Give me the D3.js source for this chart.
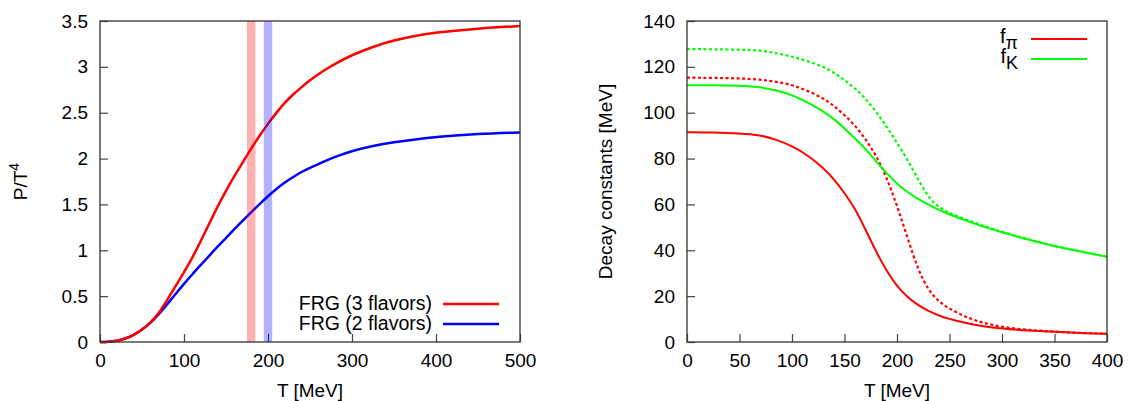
<!DOCTYPE html>
<html>
<head>
<meta charset="utf-8">
<script src="https://cdn.jsdelivr.net/npm/d3@7"></script>
<style>
  body { margin: 0; background: #fff; }
  svg { font-family: "Liberation Sans", Arial, sans-serif; }
  .tick text { font-size: 19px; fill: #000; }
  .tick line { stroke: #444; stroke-width: 1.2; }
</style>
</head>
<body>
<svg id="chart" width="1133" height="401"></svg>
<script>
// left panel: pressure
const tP = [0, 10, 20, 30, 40, 50, 60, 70, 80, 90, 100, 110, 120, 130, 140, 150, 160, 170, 180, 190,
  200, 210, 220, 230, 240, 250, 260, 270, 280, 300, 325, 350, 375, 400, 450, 500];
const p3flavors = [0, 0.002, 0.012, 0.035, 0.075, 0.135, 0.21, 0.31, 0.46, 0.61, 0.76, 0.92, 1.10, 1.29, 1.48,
  1.65, 1.81, 1.96, 2.11, 2.25, 2.38, 2.50, 2.61, 2.70, 2.78, 2.855, 2.92, 2.98, 3.035, 3.13, 3.22, 3.29, 3.34,
  3.375, 3.42, 3.445];
const p2flavors = [0, 0.002, 0.012, 0.035, 0.075, 0.135, 0.205, 0.30, 0.41, 0.525, 0.635, 0.74, 0.84, 0.94, 1.04,
  1.135, 1.23, 1.325, 1.415, 1.505, 1.59, 1.67, 1.74, 1.80, 1.855, 1.90, 1.94, 1.98, 2.02, 2.085, 2.14, 2.18, 2.21,
  2.235, 2.27, 2.285];
const tcBands = [{ from: 175, to: 185, color: "#ff0000" }, { from: 195, to: 205, color: "#0000ff" }];
const xTicksP = [0, 100, 200, 300, 400, 500];
const yTicksP = [0, 0.5, 1, 1.5, 2, 2.5, 3, 3.5];

// right panel: decay constants
const tF = [0, 25, 50, 70, 85, 100, 115, 130, 140, 150, 160, 170, 180, 190, 200, 210, 220, 230, 240, 250,
  265, 280, 300, 325, 350, 375, 400];
const fPi = [91.5, 91.4, 91.0, 90.3, 88.3, 85.5, 81.5, 75.8, 71.0, 65.0, 58.3, 49.0, 39.5, 31.0, 24.3,
  19.5, 16.0, 13.5, 11.5, 10.0, 8.3, 7.0, 5.8, 5.0, 4.4, 3.9, 3.6];
const fPiDotted = [115.3, 115.2, 115.0, 114.5, 113.5, 112.2, 109.5, 106.3, 103.0, 99.0, 94.5, 88.5, 81.5,
  72.0, 59.5, 45.5, 31.5, 22.5, 17.5, 14.5, 11.0, 8.5, 6.5, 5.2, 4.5, 3.9, 3.6];
const fK = [112.0, 112.0, 111.8, 111.2, 109.8, 107.8, 104.5, 100.6, 97.2, 93.2, 88.8, 84.3, 78.8, 73.7,
  69.0, 65.3, 62.4, 59.9, 57.6, 55.6, 53.0, 50.6, 47.8, 44.6, 41.8, 39.4, 37.2];
const fKDotted = [127.7, 127.7, 127.5, 127.2, 126.0, 124.5, 122.5, 120.0, 117.5, 114.3, 110.7, 106.2, 100.5,
  94.0, 87.0, 79.5, 71.0, 63.0, 58.7, 56.2, 53.6, 51.0, 48.0, 44.7, 41.8, 39.4, 37.2];
const xTicksF = [0, 50, 100, 150, 200, 250, 300, 350, 400];
const yTicksF = [0, 20, 40, 60, 80, 100, 120, 140];

const svg = d3.select("#chart");
const H = 321, W = 420;

function panel(left, xDomain, yDomain, xTicks, yTicks) {
  const g = svg.append("g").attr("transform", `translate(${left},21)`);
  const x = d3.scaleLinear().domain(xDomain).range([0, W]);
  const y = d3.scaleLinear().domain(yDomain).range([H, 0]);

  g.append("g").attr("transform", `translate(0,${H})`)
    .call(d3.axisBottom(x).tickValues(xTicks).tickSize(-8).tickPadding(12).tickFormat(d => String(d)))
    .call(a => a.select(".domain").remove());
  g.append("g")
    .call(d3.axisLeft(y).tickValues(yTicks).tickSize(-8).tickPadding(12).tickFormat(d => String(d)))
    .call(a => a.select(".domain").remove());

  g.append("text")
    .attr("x", W / 2).attr("y", H + 55)
    .attr("text-anchor", "middle").attr("font-size", 19)
    .text("T [MeV]");
  return { g, x, y };
}

function curve(p, xs, ys, color, width, dash) {
  const line = d3.line()
    .x((d, i) => p.x(xs[i]))
    .y(d => p.y(d))
    .curve(d3.curveBasis);
  p.g.append("path")
    .datum(ys)
    .attr("d", line)
    .attr("fill", "none")
    .attr("stroke", color)
    .attr("stroke-width", width)
    .attr("stroke-dasharray", dash || null);
}

function frame(p) {
  p.g.append("rect")
    .attr("width", W).attr("height", H)
    .attr("fill", "none").attr("stroke", "#333").attr("stroke-width", 1.3);
}

// ---- left
const pl = panel(100, [0, 500], [0, 3.5], xTicksP, yTicksP);
curve(pl, tP, p2flavors, "#0000ff", 2.5);
curve(pl, tP, p3flavors, "#ff0000", 2.5);
pl.g.selectAll("rect.band")
  .data(tcBands)
  .enter().append("rect")
  .attr("class", "band")
  .attr("x", d => pl.x(d.from))
  .attr("width", d => pl.x(d.to) - pl.x(d.from))
  .attr("y", 0).attr("height", H)
  .attr("fill", d => d.color)
  .attr("fill-opacity", 0.3);
frame(pl);

const yl = pl.g.append("text")
  .attr("transform", `translate(-73,${H / 2}) rotate(-90)`)
  .attr("text-anchor", "middle").attr("font-size", 19);
yl.append("tspan").text("P/T");
yl.append("tspan").attr("dy", -8).attr("font-size", 14).text("4");

const legP = [{ label: "FRG (3 flavors)", color: "#ff0000" }, { label: "FRG (2 flavors)", color: "#0000ff" }];
legP.forEach((d, i) => {
  const yy = 283 + i * 20;
  pl.g.append("text").attr("x", 332).attr("y", yy + 6)
    .attr("text-anchor", "end").attr("font-size", 19.5).text(d.label);
  pl.g.append("line").attr("x1", 343).attr("x2", 399).attr("y1", yy).attr("y2", yy)
    .attr("stroke", d.color).attr("stroke-width", 2.5);
});

// ---- right
const pr = panel(687, [0, 400], [0, 140], xTicksF, yTicksF);
curve(pr, tF, fPiDotted, "#ff0000", 2.2, "3,2.5");
curve(pr, tF, fKDotted, "#00ff00", 2.2, "3,2.5");
curve(pr, tF, fPi, "#ff0000", 2);
curve(pr, tF, fK, "#00ff00", 2);
frame(pr);

pr.g.append("text")
  .attr("transform", `translate(-75,${H / 2}) rotate(-90)`)
  .attr("text-anchor", "middle").attr("font-size", 19)
  .text("Decay constants [MeV]");

const legF = [{ sub: "π", color: "#ff0000" }, { sub: "K", color: "#00ff00" }];
legF.forEach((d, i) => {
  const yy = 18 + i * 20;
  const t = pr.g.append("text").attr("x", 331).attr("y", yy + 4)
    .attr("text-anchor", "end").attr("font-size", 20);
  t.append("tspan").text("f");
  t.append("tspan").attr("dy", 6).attr("font-size", 18).text(d.sub);
  pr.g.append("line").attr("x1", 344).attr("x2", 400).attr("y1", yy).attr("y2", yy)
    .attr("stroke", d.color).attr("stroke-width", 2);
});
</script>
</body>
</html>
